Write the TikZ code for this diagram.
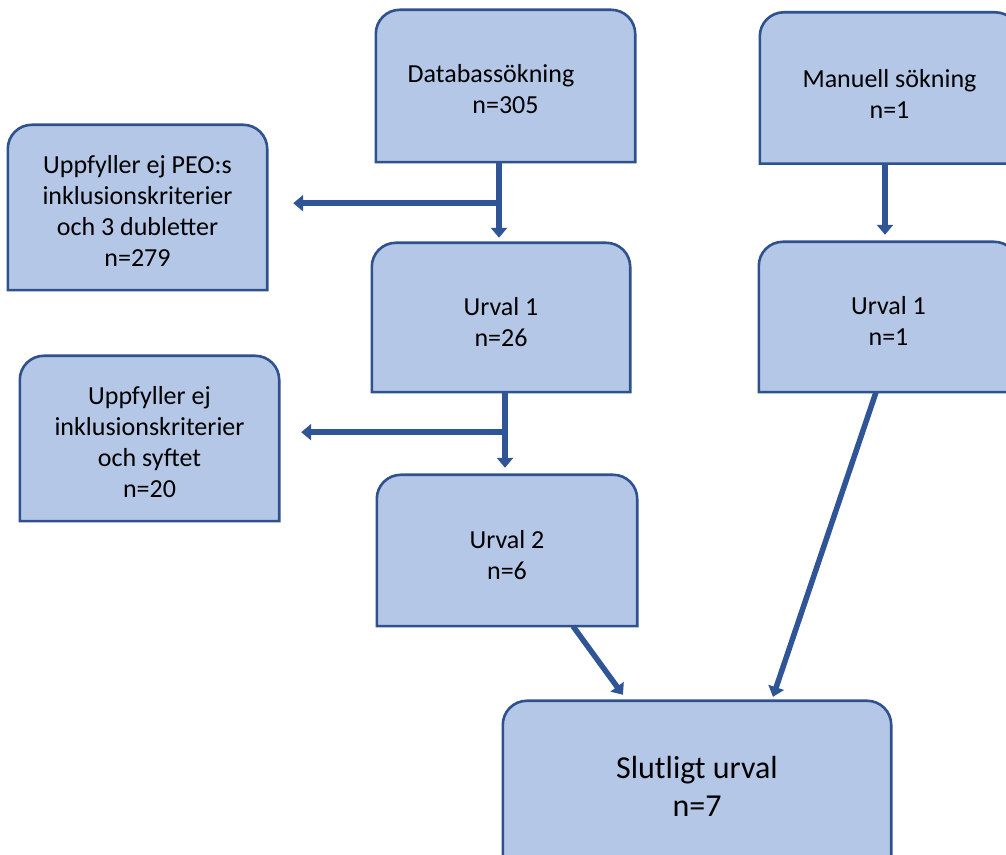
\documentclass[tikz,border=0pt]{standalone}
\usepackage{fontspec}
\setmainfont{Carlito}
\usetikzlibrary{arrows.meta,calc}
\definecolor{boxfill}{HTML}{B4C7E7}
\definecolor{boxline}{HTML}{2F528F}
\definecolor{arrowc}{HTML}{2F5597}
\pgfdeclarelayer{bg}
\pgfsetlayers{bg,main}
\newcommand\topbox[1]{%
  \begin{pgfonlayer}{bg}
  \path[fill=boxfill,draw=boxline,line width=2.6pt]
    (#1.south west) -- ([yshift=-24pt]#1.north west)
    arc[start angle=180,end angle=90,radius=24pt]
    -- ([xshift=-24pt]#1.north east)
    arc[start angle=90,end angle=0,radius=24pt]
    -- (#1.south east) -- cycle;
  \end{pgfonlayer}}
\tikzset{
  box/.style={minimum width=259pt,inner sep=0pt,align=center,
    font=\fontsize{26}{31}\selectfont},
  arr/.style={draw=arrowc,line width=5.5pt,-{Triangle[width=16pt,length=10pt]}}
}
\begin{document}
\begin{tikzpicture}[x=1pt,y=1pt]
\useasboundingbox (0,0) rectangle (1006,854);
\clip (0,0) rectangle (1006,854);
\begin{pgfonlayer}{bg}
\fill[white] (0,0) rectangle (1006,854);
\end{pgfonlayer}

\node[box,minimum height=152pt] (db) at (505.5,768) {\rule{0pt}{25pt}Databassökning\hspace*{29pt}\\n=305};
\node[box,minimum height=151pt] (man) at (889.5,766) {\rule{0pt}{30pt}Manuell sökning\\n=1};
\node[box,minimum height=165pt] (peo) at (137.5,646.5) {\rule{0pt}{25pt}Uppfyller ej PEO:s\\inklusionskriterier\\och 3 dubletter\\n=279};
\node[box,minimum width=258pt,minimum height=149pt] (u1l) at (501,536.5) {\rule{0pt}{27pt}Urval 1\\n=26};
\node[box,minimum height=150pt] (u1r) at (888.5,537) {\rule{0pt}{27pt}Urval 1\\n=1};
\node[box,minimum height=165pt] (inkl) at (149.5,415.5) {\rule{0pt}{25pt}Uppfyller ej\\inklusionskriterier\\och syftet\\n=20};
\node[box,minimum width=260pt,minimum height=151pt] (u2) at (507,303.5) {\rule{0pt}{27pt}Urval 2\\n=6};
\node[box,minimum width=388pt,minimum height=170pt,font=\fontsize{32}{38}\selectfont] (slut) at (697,68) {Slutligt urval\\n=7};

\foreach \b in {db,man,peo,u1l,u1r,inkl,u2,slut} {\topbox{\b}}

% Databassökning -> Urval 1, with branch to the left
\draw[arr,shorten >=5pt] ([xshift=-6.5pt]db.south) -- ([xshift=-6.5pt]db.south |- u1l.north);
\coordinate (j1) at ($(db.south)+(-6.5,-41)$);
\draw[arr,shorten >=26pt] (j1) -- (j1 -| peo.east);

% Urval 1 -> Urval 2, with branch to the left
\draw[arr,shorten >=7pt] ([xshift=4pt]u1l.south) -- ([xshift=4pt]u1l.south |- u2.north);
\coordinate (j2) at ($(u1l.south)+(4,-40)$);
\draw[arr,shorten >=22pt] (j2) -- (j2 -| inkl.east);

% Manuell sökning -> Urval 1
\draw[arr,shorten >=7pt] ([xshift=-4.5pt]man.south) -- ([xshift=-4.5pt]man.south |- u1r.north);

% to final selection
\draw[arr,shorten >=7.4pt] ([xshift=66pt]u2.south) -- ([xshift=-69.7pt]slut.north);
\draw[arr,shorten >=4.2pt] ([xshift=-12.5pt]u1r.south) -- ([xshift=74.6pt]slut.north);
\end{tikzpicture}
\end{document}
